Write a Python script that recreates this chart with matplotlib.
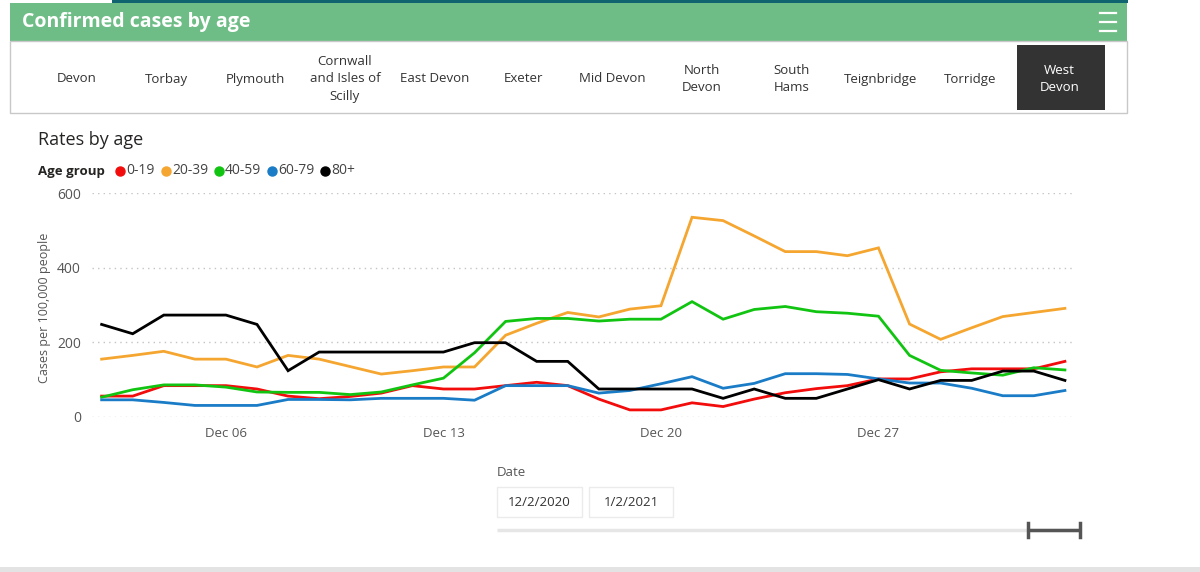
import numpy as np
import pandas as pd
import matplotlib
matplotlib.use("Agg")
import matplotlib.pyplot as plt
import matplotlib.dates as mdates
from matplotlib.patches import Rectangle

plt.rcParams['font.family'] = ['Open Sans', 'DejaVu Sans']

# data (cases per 100,000, West Devon)
dates = pd.date_range("2020-12-02", "2021-01-02", freq="D")
age_groups = ["0-19", "20-39", "40-59", "60-79", "80+"]
rate_0_19 = [56, 56, 84, 84, 84, 75, 56, 49, 55, 64, 84, 75, 75, 84, 93, 84,
             48, 19, 19, 38, 28, 48, 65, 76, 84, 102, 102, 121, 129, 129, 129, 149]
rate_20_39 = [155, 165, 176, 155, 155, 134, 165, 155, 135, 115, 124, 134, 134, 219, 251, 280,
              268, 289, 298, 535, 526, 485, 443, 443, 432, 453, 249, 208, 239, 269, 280, 291]
rate_40_59 = [53, 73, 86, 86, 80, 67, 66, 66, 60, 67, 86, 104, 172, 256, 264, 264,
              257, 262, 262, 309, 262, 288, 296, 282, 278, 270, 165, 125, 118, 112, 132, 126]
rate_60_79 = [46, 46, 39, 31, 31, 31, 47, 47, 46, 50, 50, 50, 45, 84, 84, 84,
              64, 71, 89, 108, 77, 90, 116, 116, 114, 102, 91, 91, 77, 57, 57, 71]
rate_80 = [248, 223, 273, 273, 273, 248, 124, 174, 174, 174, 174, 174, 199, 199, 149, 149,
           75, 75, 75, 75, 50, 75, 50, 50, 75, 100, 75, 98, 98, 123, 123, 98]
series = [rate_0_19, rate_20_39, rate_40_59, rate_60_79, rate_80]
colors = ['#f20c0c', '#f5a630', '#12c412', '#1a7cc6', '#000000']

areas = ["Devon", "Torbay", "Plymouth", "Cornwall\nand Isles of\nScilly", "East Devon",
         "Exeter", "Mid Devon", "North\nDevon", "South\nHams", "Teignbridge",
         "Torridge", "West\nDevon"]
selected = "West\nDevon"
y_ticks = [0, 200, 400, 600]
x_ticks = pd.to_datetime(["2020-12-06", "2020-12-13", "2020-12-20", "2020-12-27"])

W, H = 1200, 572
fig = plt.figure(figsize=(W / 100, H / 100), dpi=100)
fig.patch.set_facecolor('white')

# background axes in pixel coords for the report furniture
bg = fig.add_axes([0, 0, 1, 1])
bg.set_xlim(0, W)
bg.set_ylim(H, 0)
bg.axis('off')

bg.add_patch(Rectangle((112, 0), 1016, 3, color='#0f6470', lw=0))
bg.add_patch(Rectangle((10, 3), 1117, 38, color='#6fbd86', lw=0))
bg.text(22, 22, "Confirmed cases by age", color='white', fontsize=14,
        fontweight='bold', va='center', ha='left')
for yy in [13, 22, 31]:
    bg.plot([1100, 1116], [yy, yy], color='white', lw=1.6)

bg.add_patch(Rectangle((10, 41), 1117, 72, facecolor='white', edgecolor='#c8c8c8', lw=1))
for i, name in enumerate(areas):
    cx = 77 + i * 89.3
    if name == selected:
        bg.add_patch(Rectangle((1017, 45), 88, 65, color='#333333', lw=0))
        bg.text(cx, 79, name, color='white', fontsize=9.5, ha='center', va='center',
                linespacing=1.45)
    else:
        bg.text(cx, 79, name, color='#333333', fontsize=9.5, ha='center', va='center',
                linespacing=1.45)

bg.text(38, 140, "Rates by age", color='#252423', fontsize=13, ha='left', va='center')
bg.text(38, 171, "Age group", color='#252423', fontsize=9.5, fontweight='bold',
        ha='left', va='center')
lx = [120, 166, 219, 272, 325]
for x0, lab, c in zip(lx, age_groups, colors):
    bg.plot(x0, 171, 'o', color=c, ms=6.5)
    bg.text(x0 + 6, 171, lab, color='#444444', fontsize=10, ha='left', va='center')

bg.text(45, 308, "Cases per 100,000 people", color='#555555', fontsize=9,
        rotation=90, ha='center', va='center')

# date slicer
bg.text(497, 472, "Date", color='#555555', fontsize=9.5, ha='left', va='center')
bg.add_patch(Rectangle((497, 487), 85, 30, facecolor='white', edgecolor='#ebebeb', lw=1))
bg.add_patch(Rectangle((589, 487), 84, 30, facecolor='white', edgecolor='#ebebeb', lw=1))
bg.text(539.5, 502, "12/2/2020", color='#333333', fontsize=9.5, ha='center', va='center')
bg.text(631, 502, "1/2/2021", color='#333333', fontsize=9.5, ha='center', va='center')
bg.plot([497, 1080], [530, 530], color='#e6e6e6', lw=2.5, solid_capstyle='butt')
bg.plot([1028, 1080], [530, 530], color='#555555', lw=2.5, solid_capstyle='butt')
bg.plot([1028, 1028], [523, 537], color='#555555', lw=2.5)
bg.plot([1080, 1080], [523, 537], color='#555555', lw=2.5)
bg.add_patch(Rectangle((0, 567), W, 5, color='#e3e3e3', lw=0))

# the chart
ax = fig.add_axes([92 / W, 1 - 417 / H, (1073 - 92) / W, 224 / H])
ax.patch.set_alpha(0)
for vals, c in zip(series, colors):
    ax.plot(dates, vals, color=c, lw=2.0, solid_joinstyle='miter')

day = pd.Timedelta(days=1)
ax.set_xlim(dates[0] - 0.31 * day, dates[-1] + 0.26 * day)
ax.set_ylim(0, 600)
ax.set_yticks(y_ticks)
ax.set_xticks(x_ticks)
ax.xaxis.set_major_formatter(mdates.DateFormatter('%b %d'))
ax.tick_params(axis='both', length=0, labelsize=9.5, labelcolor='#555555')
ax.tick_params(axis='y', pad=8, labelsize=10)
ax.tick_params(axis='x', pad=7)
ax.grid(axis='y', color='#c4c4c4', linestyle=(0, (1, 3)), lw=1)
ax.set_axisbelow(True)
for s in ax.spines.values():
    s.set_visible(False)

fig.savefig("out.png", dpi=100)
